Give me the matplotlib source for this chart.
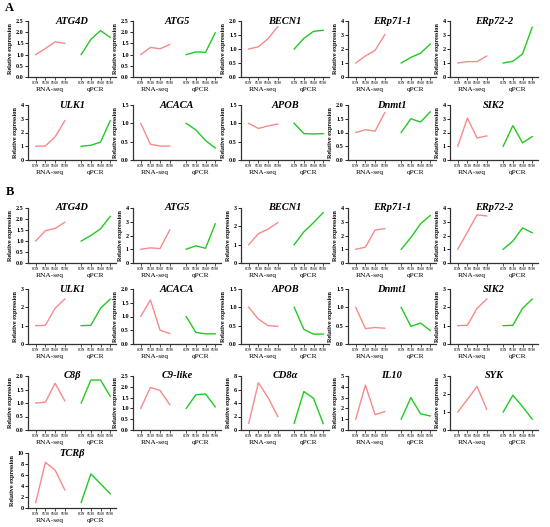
import matplotlib
matplotlib.use("Agg")
import numpy as np
import matplotlib.pyplot as plt
from matplotlib.ticker import MultipleLocator, FormatStrFormatter

plt.rcParams['font.family'] = ['Liberation Serif', 'DejaVu Serif']

stages = ["CON", "SV30", "SV60", "SV90"]
methods = ["RNA-seq", "qPCR"]

# panel A
genes_a = ["ATG4D", "ATG5", "BECN1", "ERp71-1", "ERp72-2",
           "ULK1", "ACACA", "APOB", "Dnmt1", "SIK2"]
rnaseq_a = [
    [1.0, 1.27, 1.57, 1.50],
    [1.0, 1.32, 1.26, 1.45],
    [1.0, 1.08, 1.37, 1.80],
    [1.0, 1.50, 1.90, 3.02],
    [1.0, 1.10, 1.10, 1.50],
    [1.0, 1.02, 1.68, 2.85],
    [1.0, 0.43, 0.38, 0.38],
    [1.0, 0.86, 0.93, 0.98],
    [1.0, 1.10, 1.05, 1.72],
    [1.0, 3.05, 1.60, 1.75],
]
qpcr_a = [
    [1.0, 1.68, 2.07, 1.77],
    [1.0, 1.12, 1.10, 1.97],
    [1.0, 1.38, 1.63, 1.67],
    [1.0, 1.40, 1.70, 2.35],
    [1.0, 1.12, 1.65, 3.55],
    [1.0, 1.07, 1.30, 2.85],
    [1.0, 0.82, 0.53, 0.33],
    [1.0, 0.72, 0.71, 0.72],
    [1.0, 1.50, 1.38, 1.75],
    [1.0, 2.50, 1.25, 1.70],
]
ymax_a = [2.5, 2.5, 2.0, 4, 4, 4, 1.5, 1.5, 2.0, 4]
ystep_a = [0.5, 0.5, 0.5, 1, 1, 1, 0.5, 0.5, 0.5, 1]

# panel B
genes_b = ["ATG4D", "ATG5", "BECN1", "ERp71-1", "ERp72-2",
           "ULK1", "ACACA", "APOB", "Dnmt1", "SIK2",
           "C8β", "C9-like", "CD8α", "IL10", "SYK",
           "TCRβ"]
rnaseq_b = [
    [1.0, 1.47, 1.57, 1.85],
    [1.0, 1.10, 1.05, 2.40],
    [1.0, 1.60, 1.85, 2.20],
    [1.0, 1.15, 2.40, 2.50],
    [1.0, 2.25, 3.50, 3.42],
    [1.0, 1.02, 1.95, 2.45],
    [1.0, 1.60, 0.50, 0.38],
    [1.0, 0.68, 0.50, 0.48],
    [1.0, 0.42, 0.45, 0.43],
    [1.0, 1.02, 1.95, 2.45],
    [1.0, 1.03, 1.73, 1.08],
    [1.0, 1.97, 1.83, 1.17],
    [1.0, 7.00, 4.80, 2.00],
    [1.0, 4.15, 1.42, 1.70],
    [1.0, 1.70, 2.42, 1.15],
    [1.0, 8.30, 6.90, 3.30],
]
qpcr_b = [
    [1.0, 1.25, 1.55, 2.12],
    [1.0, 1.25, 1.07, 2.85],
    [1.0, 1.70, 2.20, 2.75],
    [1.0, 1.85, 2.85, 3.45],
    [1.0, 1.60, 2.55, 2.20],
    [1.0, 1.02, 1.95, 2.45],
    [1.0, 0.42, 0.37, 0.37],
    [1.0, 0.40, 0.27, 0.27],
    [1.0, 0.48, 0.57, 0.37],
    [1.0, 1.02, 1.95, 2.45],
    [1.0, 1.85, 1.85, 1.25],
    [1.0, 1.63, 1.67, 1.07],
    [1.0, 5.70, 4.70, 0.95],
    [1.0, 3.00, 1.50, 1.30],
    [1.0, 1.93, 1.30, 0.60],
    [1.0, 6.20, 4.40, 2.60],
]
ymax_b = [2.5, 4, 3, 4, 4, 3, 2.0, 1.5, 1.5, 3, 2.0, 2.5, 8, 5, 3, 10]
ystep_b = [0.5, 1, 1, 1, 1, 1, 0.5, 0.5, 0.5, 1, 0.5, 0.5, 2, 1, 1, 2]

RNA_COLOR = '#f58b8b'
QPCR_COLOR = '#22c922'

W, H = 550, 527
fig = plt.figure(figsize=(W / 100, H / 100), dpi=100)

col_left = [28, 133, 241, 348, 450]
ax_w = 88
rows_a = [(21, 77), (105, 160)]
rows_b = [(208, 263), (289, 344), (376, 430), (453, 508)]

x_rna = np.arange(4)
x_qpcr = np.arange(4) + 4.7


def draw_panel(left, top, bottom, gene, rna, qpcr, ymax, ystep):
    ax = fig.add_axes([left / W, 1 - bottom / H, ax_w / W, (bottom - top) / H])
    ax.plot(x_rna, rna, color=RNA_COLOR, lw=1)
    ax.plot(x_qpcr, qpcr, color=QPCR_COLOR, lw=1)
    ax.set_xlim(-0.8, 8.3)
    ax.set_ylim(0, ymax)
    ax.yaxis.set_major_locator(MultipleLocator(ystep))
    ax.yaxis.set_major_formatter(FormatStrFormatter('%.1f' if ystep < 1 else '%d'))
    for s in ['top', 'right']:
        ax.spines[s].set_visible(False)
    for s in ['left', 'bottom']:
        ax.spines[s].set_linewidth(0.9)
        ax.spines[s].set_color('#333333')
    ax.set_xticks(np.concatenate([x_rna, x_qpcr]))
    ax.set_xticklabels(stages * 2, fontsize=2.4, fontweight='bold')
    ax.tick_params(axis='x', length=2, width=0.6, pad=1, colors='#333333')
    ax.tick_params(axis='y', length=2, width=0.6, pad=1, labelsize=4.4)
    for lab in ax.get_yticklabels():
        lab.set_fontweight('bold')
    ax.set_ylabel("Relative expression", fontsize=4.4, fontweight='bold', labelpad=2)
    for xs, m in zip([x_rna, x_qpcr], methods):
        ax.annotate(m, xy=(xs.mean(), 0), xycoords=('data', 'axes fraction'),
                    xytext=(0, -9), textcoords='offset points',
                    ha='center', va='center', fontsize=5.3)
    ax.text(0.5, 1.0, gene, transform=ax.transAxes, ha='center', va='center',
            fontsize=7.5, fontweight='bold', style='italic')
    return ax


for i, gene in enumerate(genes_a):
    top, bottom = rows_a[i // 5]
    draw_panel(col_left[i % 5], top, bottom, gene, rnaseq_a[i], qpcr_a[i],
               ymax_a[i], ystep_a[i])

for i, gene in enumerate(genes_b):
    top, bottom = rows_b[i // 5]
    draw_panel(col_left[i % 5], top, bottom, gene, rnaseq_b[i], qpcr_b[i],
               ymax_b[i], ystep_b[i])

fig.text(5 / W, 1 - 8 / H, "A", fontsize=9, fontweight='bold', ha='left', va='center')
fig.text(6 / W, 1 - 192 / H, "B", fontsize=9, fontweight='bold', ha='left', va='center')

fig.savefig("out.png", dpi=100)
